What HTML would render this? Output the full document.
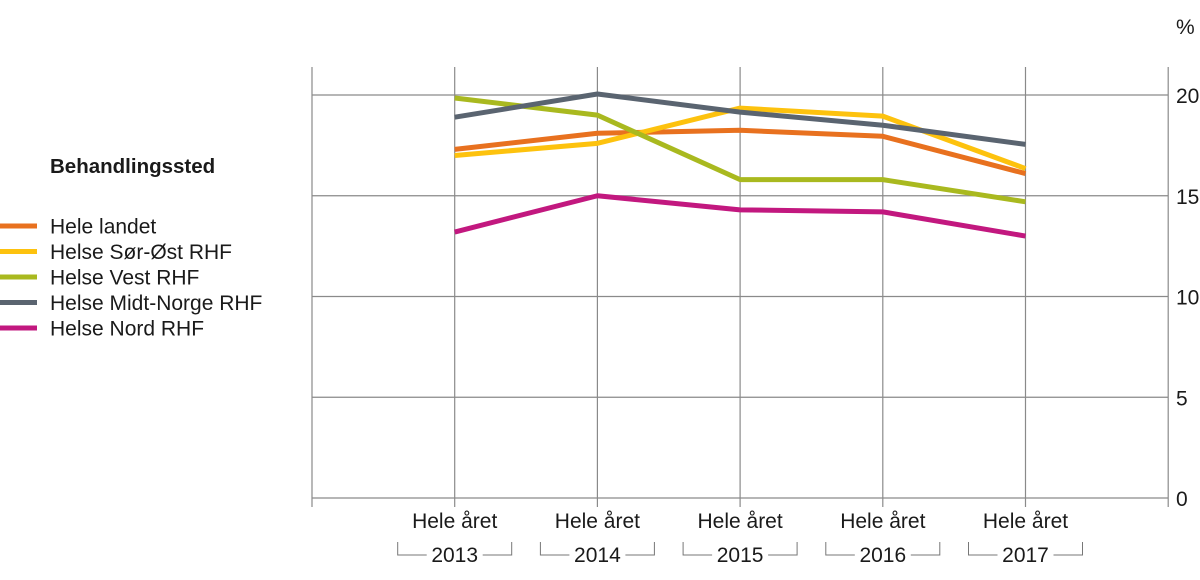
<!DOCTYPE html>
<html><head><meta charset="utf-8"><style>
body{margin:0;background:#fff;font-family:"Liberation Sans",Arial,sans-serif}
svg{display:block}
text{font-family:"Liberation Sans",Arial,sans-serif;fill:#1a1a1a}
</style></head><body>
<svg id="chart" width="1200" height="580" viewBox="0 0 1200 580">
<g id="grid"></g>
<g id="series"></g>
<g id="xaxis"></g>
<g id="yaxis"></g>
<text x="1176" y="34" font-size="21">%</text>
<g id="legend">
<text x="50" y="173" font-size="20.5" font-weight="bold">Behandlingssted</text>
</g>
</svg>
<script>
const years = ["2013","2014","2015","2016","2017"];
const yTicks = [0,5,10,15,20];
const seriesNames = ["Hele landet","Helse Sør-Øst RHF","Helse Vest RHF","Helse Midt-Norge RHF","Helse Nord RHF"];
const seriesColors = ["#e8711f","#fdc20e","#a9b91f","#5a6470","#c2187f"];
const heleLandet = [17.3,18.1,18.25,17.95,16.1];
const sorOst = [17.0,17.6,19.35,18.95,16.35];
const vest = [19.85,19.0,15.8,15.8,14.7];
const midtNorge = [18.9,20.05,19.15,18.5,17.55];
const nord = [13.2,15.0,14.3,14.2,13.0];
const allSeries = [heleLandet,sorOst,vest,midtNorge,nord];

const NS="http://www.w3.org/2000/svg";
const x0=312, step=142.7, yBase=498, pxPerUnit=20.15;
const xPos=i=>x0+step*(i+1);
const yPos=v=>yBase-v*pxPerUnit;
function mk(tag,attrs,parent){const e=document.createElementNS(NS,tag);for(const k in attrs)e.setAttribute(k,attrs[k]);parent.appendChild(e);return e;}
const grid=document.getElementById('grid'), xa=document.getElementById('xaxis'), ya=document.getElementById('yaxis'), sg=document.getElementById('series'), lg=document.getElementById('legend');

yTicks.forEach(t=>{
  const l=mk('line',{x1:x0,x2:1168,y1:yPos(t),y2:yPos(t),stroke:'#8a8a8a','stroke-width':1.2},grid);
  
  
  const tx=mk('text',{x:1176,y:yPos(t)+8,'font-size':21},ya);
  tx.textContent=t;
  
  
});
for(let i=-1;i<=years.length;i++){
  const x=x0+step*(i+1);
  const l=mk('line',{x1:x,x2:x,y1:67,y2:507,stroke:'#8a8a8a','stroke-width':1.2},grid);
  
  
}
years.forEach((y,i)=>{
  const x=xPos(i);
  const t1=mk('text',{x:x,y:528,'font-size':21,'text-anchor':'middle'},xa);
  t1.textContent='Hele året';
  
  
  const t2=mk('text',{x:x,y:562,'font-size':21,'text-anchor':'middle'},xa);
  t2.textContent=y;
  
  
  const b=mk('path',{d:`M${x-57} 542 V555 H${x-28} M${x+28} 555 H${x+57} V542`,fill:'none',stroke:'#777','stroke-width':1},xa);
  
  
});
allSeries.forEach((s,k)=>{
  const p=mk('polyline',{points:s.map((v,i)=>xPos(i)+','+yPos(v)).join(' '),fill:'none',stroke:seriesColors[k],'stroke-width':5,'stroke-linejoin':'round'},sg);
  
  
  const ly=226+k*25.5;
  const r=mk('rect',{x:0,y:ly-2.5,width:37,height:5,fill:seriesColors[k]},lg);
  
  
  const t=mk('text',{x:50,y:ly+7.5,'font-size':21},lg);
  t.textContent=seriesNames[k];
  
  
});
</script>
</body></html>
